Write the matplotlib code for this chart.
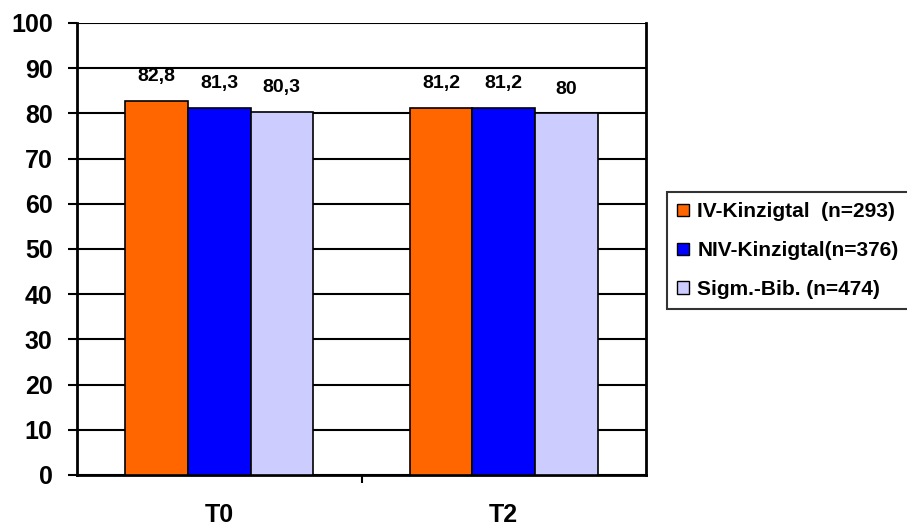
import numpy as np
import matplotlib.pyplot as plt
from matplotlib.patches import Patch

plt.rcParams['font.family'] = ['Liberation Sans', 'DejaVu Sans']
plt.rcParams['font.weight'] = 'bold'

categories = ["T0", "T2"]
series_names = ["IV-Kinzigtal  (n=293)", "NIV-Kinzigtal(n=376)", "Sigm.-Bib. (n=474)"]
values = [
    [82.8, 81.2],
    [81.3, 81.2],
    [80.3, 80.0],
]
value_labels = [
    ["82,8", "81,2"],
    ["81,3", "81,2"],
    ["80,3", "80"],
]
colors = ["#FF6600", "#0000FF", "#CCCCFF"]

fig = plt.figure(figsize=(9.07, 5.26), dpi=100)
ax = fig.add_axes([77 / 907, 51 / 526, 569 / 907, 452 / 526])

x = np.arange(len(categories))
w = 0.22
for i, (vals, labs, c) in enumerate(zip(values, value_labels, colors)):
    pos = x + (i - 1) * w
    ax.bar(pos, vals, width=w, color=c, edgecolor="black", linewidth=1.2, zorder=3)
    for p, v, t in zip(pos, vals, labs):
        ax.annotate(t, (p, v), xytext=(0, 17.5), textcoords="offset points",
                    ha="center", va="center", fontsize=14, fontweight="bold")

ax.set_xlim(-0.5, 1.5)
ax.set_ylim(0, 100)
ax.set_yticks(np.arange(0, 101, 10))
ax.yaxis.grid(True, color="black", linewidth=1.5, zorder=0)
ax.set_axisbelow(True)

ax.set_xticks(x)
ax.set_xticklabels(categories, fontsize=18, fontweight="bold")
ax.tick_params(axis="x", length=0, pad=20.5)
ax.set_xticks([0.5], minor=True)
ax.tick_params(axis="x", which="minor", length=6, width=1.5, direction="out")
ax.tick_params(axis="y", length=6.5, width=1.5, labelsize=18, pad=11)
for lab in ax.get_yticklabels():
    lab.set_fontweight("bold")

for side in ["left", "right", "bottom"]:
    ax.spines[side].set_linewidth(2)
ax.spines["top"].set_visible(False)

handles = [Patch(facecolor=c, edgecolor="black", linewidth=1) for c in colors]
leg = fig.legend(handles, series_names, loc="upper left",
                 bbox_to_anchor=(667 / 907, 1 - 192 / 526),
                 frameon=True, fancybox=False, edgecolor="black",
                 prop={"size": 15, "weight": "bold"},
                 handlelength=0.55, handleheight=0.55, handletextpad=0.4,
                 labelspacing=0.95, borderpad=0.5, borderaxespad=0)
leg.get_frame().set_linewidth(1.5)

fig.savefig("out.png", dpi=100)
